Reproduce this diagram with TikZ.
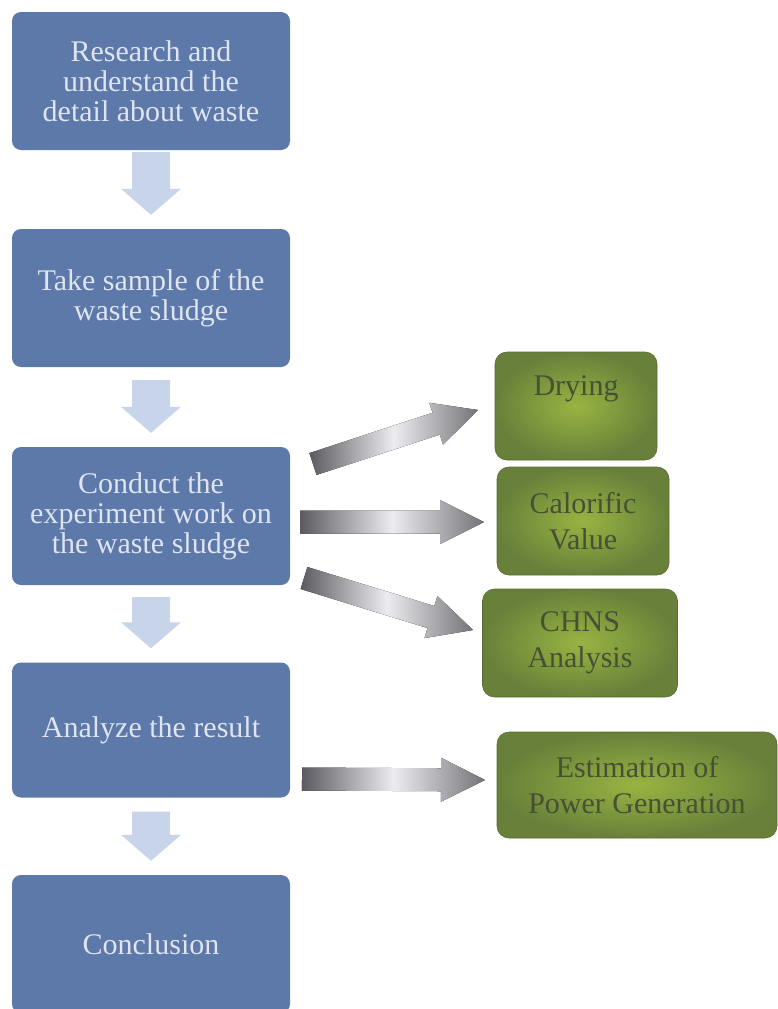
\documentclass[tikz,border=0pt]{standalone}
\usepackage{fontspec}
\setmainfont{Liberation Serif}
\usetikzlibrary{calc}
\definecolor{boxblue}{RGB}{92,121,170}
\definecolor{boxtext}{RGB}{222,228,240}
\definecolor{arrowblue}{RGB}{200,212,234}
\definecolor{greenout}{RGB}{104,128,58}
\definecolor{greenin}{RGB}{152,180,66}
\definecolor{greentext}{RGB}{70,80,52}
\definecolor{arrowdark}{RGB}{90,90,96}
\definecolor{arrowlight}{RGB}{236,236,240}

% block arrow: [style]{tail}{tip}{shaft half width}{head half width}{head length}
\newcommand{\blockarrow}[6][]{%
    \coordinate (ba-h) at ($(#3)!#6!(#2)$);
    \fill[#1] ($(#2)!#4!90:(#3)$) -- ($(ba-h)!#4!90:(#3)$) -- ($(ba-h)!#5!90:(#3)$)
        -- (#3) -- ($(ba-h)!#5!-90:(#3)$) -- ($(ba-h)!#4!-90:(#3)$) -- ($(#2)!#4!-90:(#3)$) -- cycle;
}

\begin{document}
\begin{tikzpicture}[x=1pt, y=-1pt,
        stepbox/.style={rectangle, rounded corners=9pt, fill=boxblue, text=boxtext,
            minimum width=278pt, minimum height=138pt, align=center,
            font=\fontsize{30}{30}\selectfont},
        resultbox/.style={rectangle, rounded corners=12pt, draw=greenout!85!black, line width=0.6pt,
            inner color=greenin, outer color=greenout, text=greentext, minimum height=108pt,
            align=center, font=\fontsize{30}{36}\selectfont},
        downarrow/.style={fill=arrowblue},
        sidearrow/.style={left color=arrowdark, right color=arrowdark!85!white, middle color=arrowlight}]
        \useasboundingbox (0,0) rectangle (778,1009);

        % Steps
        \node[stepbox] (b1) at (151,81) {Research and\\understand the\\detail about waste};
        \node[stepbox] (b2) at (151,298) {Take sample of the\\waste sludge};
        \node[stepbox] (b3) at (151,516) {Conduct the\\experiment work on\\the waste sludge};
        \node[stepbox, minimum height=135pt] (b4) at (151,730) {Analyze the result};
        \node[stepbox] (b5) at (151,944) {Conclusion};

        % Results
        \node[resultbox, minimum width=162pt, text depth=40pt] (g1) at (576,406) {Drying};
        \node[resultbox, minimum width=172pt] (g2) at (583,521) {Calorific\\Value};
        \node[resultbox, minimum width=195pt] (g3) at (580,643) {CHNS\\Analysis};
        \node[resultbox, minimum width=280pt, minimum height=106pt] (g4) at (637,785) {Estimation of\\Power Generation};

        % Arrows between steps
        \foreach \a/\b/\t in {b1/b2/2, b2/b3/13, b3/b4/12, b4/b5/14} {
            \coordinate (\a-tail) at ([yshift=-\t pt]\a.south);
            \coordinate (\a-tip) at ([yshift=14pt]\b.north);
            \blockarrow[downarrow]{\a-tail}{\a-tip}{19pt}{30pt}{26pt}
        }

        % Arrows to results
        \foreach \n/\tx/\ty/\hx/\hy in {g1/313/464/478/410, g2/300/522/484/522, g3/304/578/473/630, g4/302/779/485/780} {
            \coordinate (\n-tail) at (\tx,\ty);
            \coordinate (\n-tip) at (\hx,\hy);
            \blockarrow[sidearrow]{\n-tail}{\n-tip}{11.5pt}{22pt}{44pt}
        }
    \end{tikzpicture}
\end{document}
